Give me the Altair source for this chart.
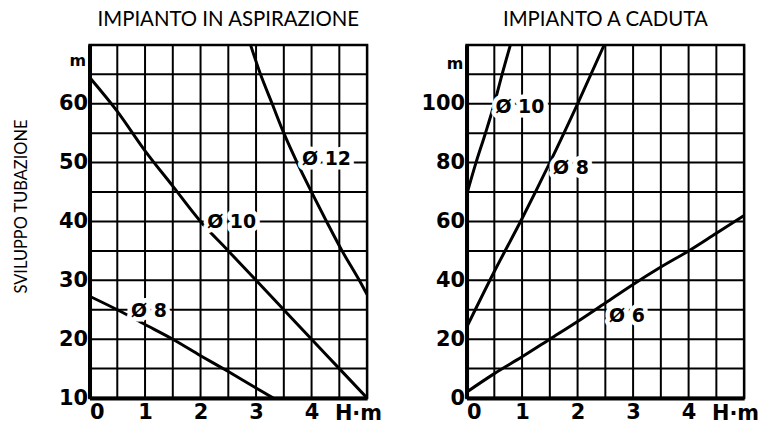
import altair as alt
import pandas as pd

# ---- curve readings: H (m) vs pipe length (m) ----
# Suction installation
asp_d8_h = [0, 0.5, 1, 1.5, 2, 2.5, 3, 3.31]
asp_d8_l = [27.3, 25, 22.5, 20, 17.2, 14.5, 11.7, 10]
asp_d10_h = [0, 0.5, 1, 1.5, 2, 2.5, 3, 3.5, 4, 4.5, 5]
asp_d10_l = [64.5, 58.7, 52, 46, 40, 35, 30, 25, 20, 15, 10]
asp_d12_h = [2.9, 3.08, 3.29, 3.5, 3.74, 4.0, 4.27, 4.55, 4.86, 5]
asp_d12_l = [70, 65, 60, 55, 50, 45, 40, 35, 30, 27.6]

# Gravity-fed installation
cad_d10_h = [0, 0.17, 0.34, 0.5, 0.64, 0.79]
cad_d10_l = [69, 80, 90, 100, 110, 120]
cad_d8_h = [0, 0.5, 1, 1.5, 2, 2.48]
cad_d8_l = [24, 43, 61, 80, 100, 120]
cad_d6_h = [0, 0.5, 1, 1.5, 2, 2.5, 3, 3.5, 4, 4.5, 5]
cad_d6_l = [2, 8.3, 14, 20, 26, 32.3, 38.6, 44.5, 50, 56, 62]

# curve labels
asp_lab_text = ["Ø 12", "Ø 10", "Ø 8"]
asp_lab_h = [4.27, 2.56, 1.07]
asp_lab_l = [50.6, 39.9, 24.7]
cad_lab_text = ["Ø 10", "Ø 8", "Ø 6"]
cad_lab_h = [0.96, 1.88, 2.89]
cad_lab_l = [99, 78, 27.8]

# unit captions on the axes
asp_unit_y = [67.3]
cad_unit_y = [113.5]
unit_x = [-0.06]
hm_x = [4.42]

# axis ticks / grid
x_grid = [0, 0.5, 1, 1.5, 2, 2.5, 3, 3.5, 4, 4.5, 5]
x_ticks = [0, 1, 2, 3, 4]
asp_y_grid = list(range(10, 71, 5))
asp_y_ticks = [10, 20, 30, 40, 50, 60]
cad_y_grid = list(range(0, 121, 10))
cad_y_ticks = [0, 20, 40, 60, 80, 100]

TICK_FONT = "DejaVu Sans"
TITLE_FONT = "Lato"


def curves(pairs):
    rows = []
    for name, hs, ls in pairs:
        for i, (h, l) in enumerate(zip(hs, ls)):
            rows.append({"serie": name, "i": i, "h": h, "l": l})
    return pd.DataFrame(rows)


def panel(title, df, lab_df, unit_y, ydom, ygrid, yticks, ytitle):
    xs = alt.Scale(domain=[0, 5], nice=False, zero=False)
    ys = alt.Scale(domain=ydom, nice=False, zero=False)
    yaxis_kw = dict(
        values=yticks, grid=False,
        ticks=False, domain=True, domainColor="black", domainWidth=4,
        labelFont=TICK_FONT, labelFontWeight="bold",
        labelFontSize=21, labelColor="black", labelPadding=2,
    )
    if ytitle:
        yaxis_kw.update(title=ytitle, titleFont=TITLE_FONT, titleFontSize=16.5,
                        titleFontWeight="normal", titleColor="black",
                        titlePadding=29, titleY=162)
    else:
        yaxis_kw.update(title=None)
    x = alt.X("h:Q", scale=xs, axis=alt.Axis(
        values=x_ticks, grid=False,
        ticks=False, domain=True, domainColor="black", domainWidth=4,
        labelFont=TICK_FONT, labelFontWeight="bold", labelFontSize=21,
        labelColor="black", labelPadding=4, title=None))
    y = alt.Y("l:Q", scale=ys, axis=alt.Axis(**yaxis_kw))

    # square grid: every 0.5 m of head, every 5 / 10 m of pipe
    vgrid = alt.Chart(pd.DataFrame({"h": x_grid})).mark_rule(
        color="black", strokeWidth=2
    ).encode(x=x)
    hgrid = alt.Chart(pd.DataFrame({"l": ygrid})).mark_rule(
        color="black", strokeWidth=2
    ).encode(y=y)

    lines = alt.Chart(df).mark_line(
        color="black", strokeWidth=3, interpolate="monotone", clip=True
    ).encode(x=x, y=y, detail="serie:N", order="i:Q")

    halo = alt.Chart(lab_df).mark_text(
        font=TICK_FONT, fontSize=19, fontWeight="bold", fill="white",
        stroke="white", strokeWidth=9, strokeJoin="round"
    ).encode(x=x, y=y, text="t:N")
    text = alt.Chart(lab_df).mark_text(
        font=TICK_FONT, fontSize=19, fontWeight="bold", color="black"
    ).encode(x=x, y=y, text="t:N")

    unit_m = alt.Chart(pd.DataFrame({"h": unit_x, "l": unit_y, "t": ["m"]})).mark_text(
        font=TICK_FONT, fontWeight="bold", fontSize=16, color="black", align="right"
    ).encode(x=x, y=y, text="t:N")
    unit_h = alt.Chart(pd.DataFrame({"h": hm_x, "l": [ydom[0]], "t": ["H·m"]})).mark_text(
        font=TICK_FONT, fontWeight="bold", fontSize=21, color="black", align="left",
        baseline="top", dy=5
    ).encode(x=x, y=y, text="t:N")

    return alt.layer(vgrid, hgrid, lines, halo, text, unit_m, unit_h).properties(
        width=279, height=355,
        title=alt.TitleParams(title, font=TITLE_FONT, fontSize=20.5,
                              fontWeight="normal", color="black",
                              frame="group", offset=13),
    )


asp_df = curves([("d8", asp_d8_h, asp_d8_l), ("d10", asp_d10_h, asp_d10_l),
                 ("d12", asp_d12_h, asp_d12_l)])
cad_df = curves([("d10", cad_d10_h, cad_d10_l), ("d8", cad_d8_h, cad_d8_l),
                 ("d6", cad_d6_h, cad_d6_l)])
asp_lab = pd.DataFrame({"t": asp_lab_text, "h": asp_lab_h, "l": asp_lab_l})
cad_lab = pd.DataFrame({"t": cad_lab_text, "h": cad_lab_h, "l": cad_lab_l})

left = panel("IMPIANTO IN ASPIRAZIONE", asp_df, asp_lab, asp_unit_y, [10, 70],
             asp_y_grid, asp_y_ticks, "SVILUPPO TUBAZIONE")
right = panel("IMPIANTO A CADUTA", cad_df, cad_lab, cad_unit_y, [0, 120],
              cad_y_grid, cad_y_ticks, None)

chart = alt.hconcat(left, right, spacing=35).properties(
    padding={"left": 12, "top": 8, "right": 5, "bottom": 5},
    background="white",
).configure_view(stroke="black", strokeWidth=2.5)

chart.save("out.html", embed_options={"renderer": "svg", "actions": False})
